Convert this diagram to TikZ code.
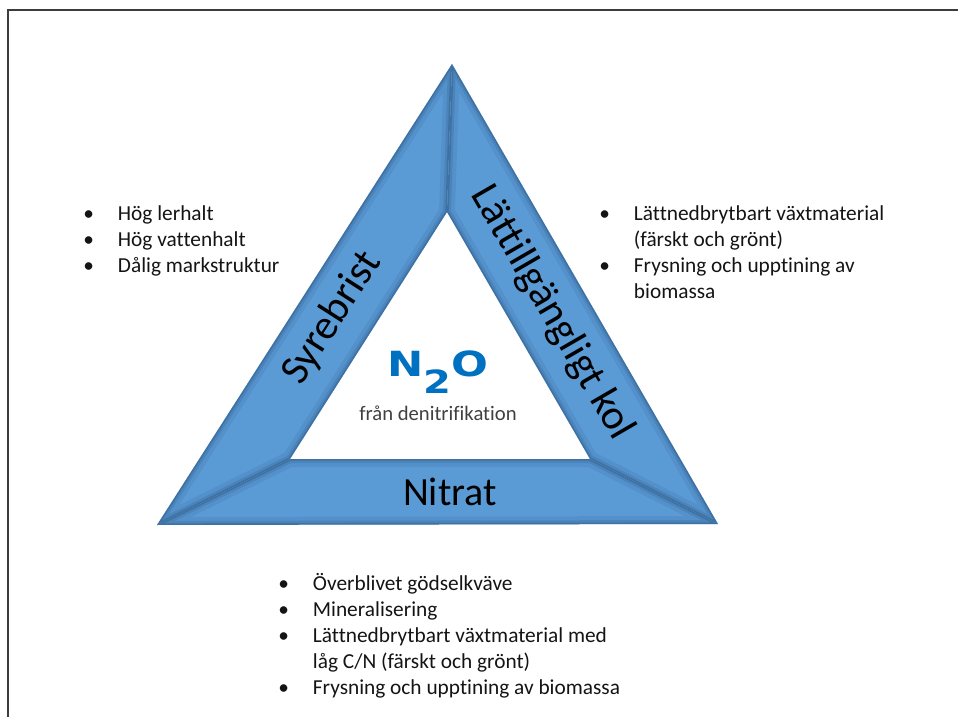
\documentclass[tikz,border=0pt]{standalone}
\usepackage{fontspec}
\setmainfont{Carlito}[RawFeature={-liga;-clig;-dlig;-calt;-hlig}]
\newfontfamily\molfont{DejaVu Sans}
\definecolor{bandblue}{RGB}{91,155,213}
\definecolor{bandedge}{RGB}{40,80,125}
\definecolor{molblue}{RGB}{0,112,192}
\definecolor{txtgray}{RGB}{64,64,64}
\definecolor{framegray}{RGB}{60,60,60}
\tikzset{
  bandtext/.style={font=\fontsize{31.5}{36}\selectfont, text=black, inner sep=0pt},
  bullets/.style={font=\fontsize{16}{19.5}\selectfont, align=left, anchor=north west,
    inner sep=0pt, text=black!92},
}
\newcommand{\bul}{\makebox[26pt][l]{\textbullet}}
\newcommand{\ind}{\hspace*{26pt}}
\begin{document}
\begin{tikzpicture}[x=0.75pt, y=-0.75pt]
      \useasboundingbox (0,0) rectangle (958,717);
      \draw[framegray, line width=1pt] (8,717) -- (8,10) -- (958,10);
      % corners of the triangle
      \coordinate (A) at (452,64);
      \coordinate (B) at (157,525);
      \coordinate (C) at (718,524);
      \coordinate (a) at (447,212);
      \coordinate (b) at (290,459);
      \coordinate (c) at (590,459);
      % the three bands
      \foreach \p/\q/\r/\s in {A/a/b/B, A/C/c/a, B/b/c/C} {
        \fill[bandblue] (\p) -- (\q) -- (\r) -- (\s) -- cycle;
        \begin{scope}
          \clip (\p) -- (\q) -- (\r) -- (\s) -- cycle;
          \draw[bandedge, line width=12pt, opacity=.12] (\p) -- (\q) -- (\r) -- (\s) -- cycle;
          \draw[bandedge, line width=6pt, opacity=.2] (\p) -- (\q) -- (\r) -- (\s) -- cycle;
          \draw[bandedge, line width=2.5pt, opacity=.35] (\p) -- (\q) -- (\r) -- (\s) -- cycle;
        \end{scope}
      }
      \node[bandtext, rotate=57.3] (syre) at (332,318) {Syrebrist};
      \node[bandtext, rotate=-59.9] (kol) at (552,313) {Lättillgängligt kol};
      \node[bandtext, font=\fontsize{30}{36}\selectfont] (nitrat) at (450,492) {Nitrat};
      % centre
      \node[inner sep=0pt, text=molblue, font=\molfont\bfseries\fontsize{26}{30}\selectfont]
        (n2o) at (438,372) {\scalebox{1.25}[1]{N\raisebox{-13pt}{\fontsize{24}{28}\selectfont 2}O}};
      \node[inner sep=0pt, text=txtgray, font=\fontsize{15.5}{18}\selectfont]
        (denit) at (438,413) {från denitrifikation};
      % lists
      \node[bullets] (syrelist) at (83,205) {\bul Hög lerhalt\\ \bul Hög vattenhalt\\ \bul Dålig markstruktur};
      \node[bullets] (kollist) at (599,205) {\bul Lättnedbrytbart växtmaterial\\ \ind(färskt och grönt)\\
        \bul Frysning och upptining av\\ \ind biomassa};
      \node[bullets] (nitlist) at (278,573) {\bul Överblivet gödselkväve\\ \bul Mineralisering\\
        \bul Lättnedbrytbart växtmaterial med\\ \ind låg C/N (färskt och grönt)\\
        \bul Frysning och upptining av biomassa};
\end{tikzpicture}
\end{document}
